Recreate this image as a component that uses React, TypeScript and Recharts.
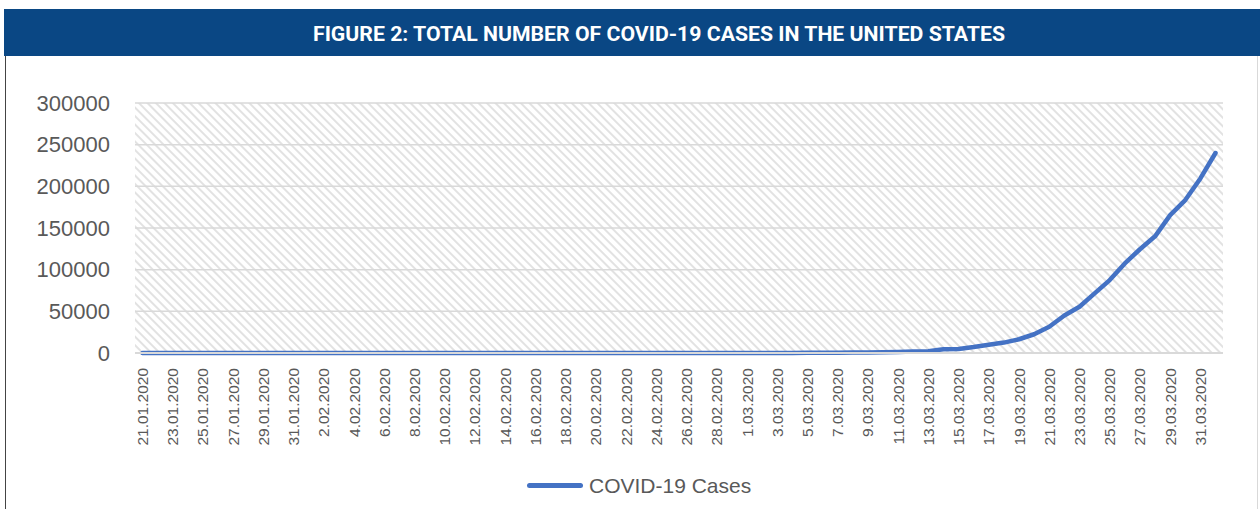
import React from 'react';
import { LineChart, Line, XAxis, YAxis, CartesianGrid } from 'recharts';

// one label per day, 21 Jan - 1 Apr 2020
const dates = [
  '21.01.2020', '22.01.2020', '23.01.2020', '24.01.2020', '25.01.2020', '26.01.2020',
  '27.01.2020', '28.01.2020', '29.01.2020', '30.01.2020', '31.01.2020',
  '1.02.2020', '2.02.2020', '3.02.2020', '4.02.2020', '5.02.2020', '6.02.2020',
  '7.02.2020', '8.02.2020', '9.02.2020', '10.02.2020', '11.02.2020', '12.02.2020',
  '13.02.2020', '14.02.2020', '15.02.2020', '16.02.2020', '17.02.2020', '18.02.2020',
  '19.02.2020', '20.02.2020', '21.02.2020', '22.02.2020', '23.02.2020', '24.02.2020',
  '25.02.2020', '26.02.2020', '27.02.2020', '28.02.2020', '29.02.2020',
  '1.03.2020', '2.03.2020', '3.03.2020', '4.03.2020', '5.03.2020', '6.03.2020',
  '7.03.2020', '8.03.2020', '9.03.2020', '10.03.2020', '11.03.2020', '12.03.2020',
  '13.03.2020', '14.03.2020', '15.03.2020', '16.03.2020', '17.03.2020', '18.03.2020',
  '19.03.2020', '20.03.2020', '21.03.2020', '22.03.2020', '23.03.2020', '24.03.2020',
  '25.03.2020', '26.03.2020', '27.03.2020', '28.03.2020', '29.03.2020', '30.03.2020',
  '31.03.2020', '1.04.2020',
];

const cases = [
  1, 1, 1, 2, 2, 5, 5, 5, 5, 5, 7,
  8, 8, 11, 11, 11, 11, 11, 11, 11, 11, 12, 12, 13, 13, 13, 13, 13, 13, 13, 13,
  15, 15, 15, 51, 51, 57, 58, 60, 68,
  74, 98, 118, 149, 217, 262, 402, 518, 583, 959, 1281, 1663,
  2200, 4600, 4900, 7200, 10000, 12500, 16500, 22500, 31500, 45000, 55500,
  71500, 87500, 107500, 124500, 140000, 165500, 183500, 209500, 240000,
];

const yTicks = [0, 50000, 100000, 150000, 200000, 250000, 300000];

const data = dates.map((d, i) => ({ date: d, cases: cases[i] }));

const DateTick = (props: any) => {
  const { x, y, payload } = props;
  const ty = y + 15;
  return (
    <text
      x={x}
      y={ty}
      transform={`rotate(-90 ${x} ${ty})`}
      textAnchor="end"
      dominantBaseline="central"
      fontSize={15.5}
      fill="#595959"
    >
      {payload.value}
    </text>
  );
};

export default function App() {
  return (
    <div
      style={{
        position: 'absolute',
        left: 0,
        top: 0,
        width: 1260,
        height: 509,
        background: '#fff',
        fontFamily: '"Liberation Sans", Arial, sans-serif',
        overflow: 'hidden',
      }}
    >
      <svg width="0" height="0" style={{ position: 'absolute' }}>
        <defs>
          <pattern id="hatch" width="6" height="6" patternUnits="userSpaceOnUse" patternTransform="rotate(45)">
            <rect width="6" height="6" fill="#ffffff" />
            <rect width="6" height="2" fill="#e2e2e2" />
          </pattern>
        </defs>
      </svg>

      <div style={{ position: 'absolute', left: 4, top: 9, width: 1256, height: 47, background: '#0a4784' }}>
        <svg width="1256" height="47">
          <text
            x={309}
            y={32}
            fill="#fff"
            fontSize={21}
            fontWeight="bold"
            fontFamily="Roboto, 'Liberation Sans', sans-serif"
            textLength={692}
            lengthAdjust="spacingAndGlyphs"
          >
            FIGURE 2: TOTAL NUMBER OF COVID-19 CASES IN THE UNITED STATES
          </text>
        </svg>
      </div>

      <div style={{ position: 'absolute', left: 5, top: 56, width: 1, height: 453, background: '#444' }} />
      <div style={{ position: 'absolute', left: 1257, top: 56, width: 1, height: 453, background: '#d9d9d9' }} />

      <div style={{ position: 'absolute', left: 0, top: 56 }}>
        <LineChart width={1260} height={453} data={data} margin={{ top: 47, right: 37, bottom: 0, left: 0 }}>
          <CartesianGrid vertical={false} stroke="#d9d9d9" strokeWidth={1.5} fill="url(#hatch)" fillOpacity={1} />
          <XAxis
            dataKey="date"
            interval={1}
            height={156}
            padding={{ left: 7.5, right: 7.5 }}
            tickLine={false}
            tickSize={0}
            tickMargin={0}
            axisLine={{ stroke: '#d9d9d9', strokeWidth: 2 }}
            tick={<DateTick />}
          />
          <YAxis
            width={135}
            domain={[0, 300000]}
            ticks={yTicks}
            axisLine={false}
            tickLine={false}
            tickSize={0}
            tickMargin={25}
            tick={{ fontSize: 22, fill: '#595959' }}
          />
          <Line
            type="linear"
            dataKey="cases"
            stroke="#4472c4"
            strokeWidth={4.5}
            strokeLinecap="round"
            strokeLinejoin="round"
            dot={false}
            isAnimationActive={false}
          />
        </LineChart>
      </div>

      <div style={{ position: 'absolute', left: 527, top: 483, width: 56, height: 5, borderRadius: 3, background: '#4472c4' }} />
      <div style={{ position: 'absolute', left: 589, top: 474, fontSize: 21, lineHeight: '24px', color: '#595959', whiteSpace: 'nowrap' }}>
        COVID-19 Cases
      </div>
    </div>
  );
}
